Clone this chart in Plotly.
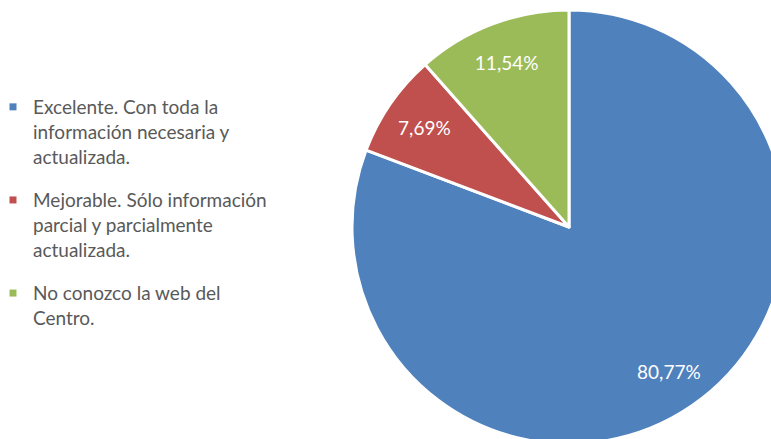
import plotly.graph_objects as go

categories = [
    "Excelente. Con toda la<br>información necesaria y<br>actualizada.",
    "Mejorable. Sólo información<br>parcial y parcialmente<br>actualizada.",
    "No conozco la web del<br>Centro.",
]
values = [80.77, 7.69, 11.54]
value_labels = ["80,77%", "7,69%", "11,54%"]
colors = ["#4F81BD", "#C0504D", "#9BBB59"]

W, H = 800, 460
cx, cy, r = 569, 227, 217
dom = dict(x=[(cx - r) / W, (cx + r) / W], y=[(H - cy - r) / H, (H - cy + r) / H])
plain_labels = [c.replace("<br>", " ") for c in categories]

fig = go.Figure()
# coloured slices
fig.add_trace(go.Pie(
    values=values, labels=plain_labels,
    textinfo="none",
    marker=dict(colors=colors, line=dict(color="white", width=3)),
    sort=False, direction="clockwise", rotation=0,
    showlegend=False, hoverinfo="skip", domain=dom,
))
# percentage labels (ring overlay so labels sit near the rim)
fig.add_trace(go.Pie(
    values=values, labels=plain_labels,
    text=value_labels, textinfo="text", textposition="inside",
    insidetextorientation="horizontal",
    textfont=dict(family="Lato", size=19, color="white"),
    hole=0.62,
    marker=dict(colors=["rgba(0,0,0,0)"] * 3, line=dict(width=0)),
    sort=False, direction="clockwise", rotation=0,
    showlegend=False, hoverinfo="skip", domain=dom,
))

for name, col in zip(categories, colors):
    fig.add_trace(go.Scatter(
        x=[None], y=[None], mode="markers", name=name,
        legendgroup=name,
        marker=dict(symbol="square", size=7, color=col),
    ))

fig.update_layout(
    width=W, height=H,
    margin=dict(l=0, r=0, t=0, b=0, autoexpand=False),
    paper_bgcolor="white", plot_bgcolor="white",
    xaxis=dict(visible=False), yaxis=dict(visible=False),
    legend=dict(
        x=-7 / W, xanchor="left", y=1 - 88 / H, yanchor="top",
        font=dict(family="Lato", size=19, color="#595959"),
        valign="top", traceorder="grouped", tracegroupgap=16,
        bgcolor="rgba(0,0,0,0)",
    ),
)

fig.write_html(
    "out.html",
    config={"displayModeBar": False},
    post_script="document.body.style.margin='0';document.body.style.overflow='hidden';document.documentElement.style.overflow='hidden';",
)
